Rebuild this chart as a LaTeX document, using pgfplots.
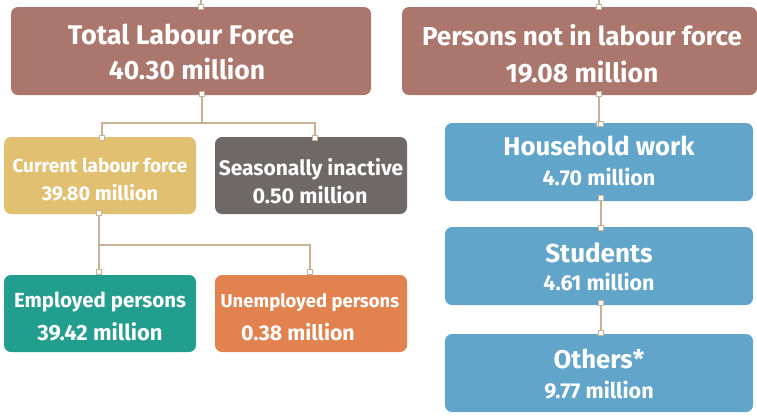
\documentclass[border=0pt]{standalone}
\usepackage{pgfplots}
\pgfplotsset{compat=1.18}
\usepackage{fontspec}
\setmainfont{Fira Sans}
\definecolor{cbrown}{HTML}{AB766B}
\definecolor{cyellow}{HTML}{E2C072}
\definecolor{cgray}{HTML}{6E6866}
\definecolor{cteal}{HTML}{229E8E}
\definecolor{corange}{HTML}{E2834F}
\definecolor{cblue}{HTML}{62A5CB}
\definecolor{ctan}{HTML}{C8B293}
\newcommand{\bx}[5]{\addplot[fill=#5, draw=none, rounded corners=7pt] coordinates {(#1,#3) (#2,#3) (#2,#4) (#1,#4)} -- cycle;}
\newcommand{\tx}[4]{\node[anchor=base, text=white, font=\fontsize{#3}{#3}\selectfont\bfseries, inner sep=0pt] at (axis cs:#1,#2) {#4};}
\begin{document}
\begin{tikzpicture}
\begin{axis}[
  scale only axis, width=757pt, height=416pt,
  xmin=0, xmax=757, ymin=0, ymax=416, y dir=reverse,
  hide axis, clip=true,
]
% connectors
\addplot[ctan, line width=1.5pt] coordinates {(201,0) (201,7)};
\addplot[ctan, line width=1.5pt] coordinates {(202,94) (202,123) (102,123) (102,138)};
\addplot[ctan, line width=1.5pt] coordinates {(202,123) (315,123) (315,138)};
\addplot[ctan, line width=1.5pt] coordinates {(599,0) (599,7)};
\addplot[ctan, line width=1.5pt] coordinates {(599,94) (599,124)};
\addplot[ctan, line width=1.5pt] coordinates {(99,213) (99,245) (99,272)};
\addplot[ctan, line width=1.5pt] coordinates {(99,245) (310,245) (310,272)};
\addplot[ctan, line width=1.5pt] coordinates {(601,198) (601,228)};
\addplot[ctan, line width=1.5pt] coordinates {(601,303) (601,333)};
% boxes
\bx{11}{371}{7}{95}{cbrown}
\bx{402}{757}{7}{95}{cbrown}
\bx{4}{196}{137}{214}{cyellow}
\bx{215}{407}{137}{214}{cgray}
\bx{4}{196}{275}{352}{cteal}
\bx{215}{407}{275}{352}{corange}
\bx{445}{753}{123}{201}{cblue}
\bx{445}{753}{227}{305}{cblue}
\bx{445}{753}{334}{412}{cblue}
% squares
\addplot[only marks, mark=square*, mark size=2.8pt, mark options={fill=white, draw=ctan, line width=1pt}]
coordinates {(201,7) (202,94) (102,138) (315,138) (599,7) (599,94) (599,124)
 (99,213) (99,272) (310,272) (601,124) (601,198) (601,228) (601,303) (601,333)};
% texts
\tx{181}{44}{27}{Total Labour Force}
\tx{187}{79}{26.5}{40.30 million}
\tx{582}{45}{26}{Persons not in labour force}
\tx{582}{82}{26.5}{19.08 million}
\tx{100}{172}{19}{Current labour force}
\tx{100}{200}{20}{39.80 million}
\tx{311}{175}{21}{Seasonally inactive}
\tx{310}{203}{21.5}{0.50 million}
\tx{100}{307}{20.5}{Employed persons}
\tx{100}{340}{22}{39.42 million}
\tx{310}{307}{18.5}{Unemployed persons}
\tx{298}{340}{21.3}{0.38 million}
\tx{599}{155}{25.7}{Household work}
\tx{599}{185}{21.5}{4.70 million}
\tx{599}{262}{26}{Students}
\tx{599}{290}{21.5}{4.61 million}
\tx{599}{368}{25.7}{Others*}
\tx{599}{398}{21.5}{9.77 million}
\end{axis}
\pgfresetboundingbox
\path[use as bounding box] (current axis.south west) rectangle (current axis.north east);
\end{tikzpicture}
\end{document}
